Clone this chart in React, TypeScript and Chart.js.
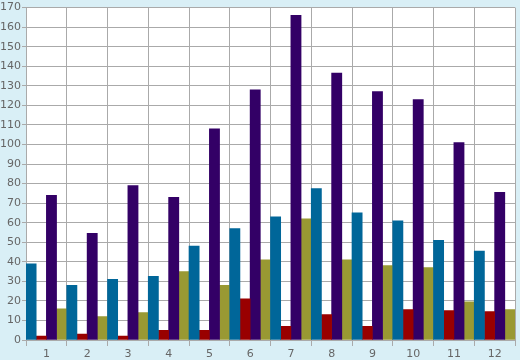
import React, { useEffect, useRef } from "react";
import { Chart, registerables } from "chart.js";

Chart.register(...registerables);

const categories = ["1", "2", "3", "4", "5", "6", "7", "8", "9", "10", "11", "12"];
const blueValues = [39, 28, 31, 32.5, 48, 57, 63, 77.5, 65, 61, 51, 45.5];
const redValues = [2, 3, 2, 5, 5, 21, 7, 13, 7, 15.5, 15, 14.5];
const purpleValues = [74, 54.5, 79, 73, 108, 128, 166, 136.5, 127, 123, 101, 75.5];
const oliveValues = [16, 12, 14, 35, 28, 41, 62, 41, 38, 37, 19.5, 15.5];

const bgPlugin = {
  id: "bgPlugin",
  beforeDraw(chart: any) {
    const { ctx, chartArea } = chart;
    ctx.save();
    ctx.fillStyle = "#d9eff6";
    ctx.fillRect(0, 0, chart.width, chart.height);
    ctx.fillStyle = "#ffffff";
    ctx.fillRect(chartArea.left, chartArea.top, chartArea.right - chartArea.left, chartArea.bottom - chartArea.top);
    ctx.restore();
  },
};

export default function App() {
  const ref = useRef<HTMLCanvasElement | null>(null);
  useEffect(() => {
    document.body.style.margin = "0";
    if (!ref.current) return;
    const font = { family: "'DejaVu Sans', Verdana, sans-serif", size: 11 };
    const chart = new Chart(ref.current, {
      type: "bar",
      data: {
        labels: categories,
        datasets: [
          { data: blueValues, backgroundColor: "#006699" },
          { data: redValues, backgroundColor: "#990000" },
          { data: purpleValues, backgroundColor: "#330066" },
          { data: oliveValues, backgroundColor: "#999933" },
        ],
      },
      options: {
        animation: false,
        responsive: false,
        maintainAspectRatio: false,
        layout: { padding: { top: 5, right: 5, left: 0, bottom: 0 } },
        datasets: { bar: { barPercentage: 1, categoryPercentage: 1 } },
        plugins: { legend: { display: false }, tooltip: { enabled: false } },
        scales: {
          x: {
            grid: { color: "#aaaaaa", lineWidth: 1, tickLength: 6, offset: true },
            border: { color: "#aaaaaa" },
            ticks: { color: "#666666", font, padding: 2 },
            afterFit(scale: any) {
              scale.height = 20;
            },
          },
          y: {
            min: 0,
            max: 170,
            grid: { color: "#aaaaaa", lineWidth: 1, tickLength: 4 },
            border: { color: "#aaaaaa" },
            ticks: { stepSize: 10, color: "#666666", font, padding: 1 },
            afterFit(scale: any) {
              scale.width = 26;
            },
          },
        },
      },
      plugins: [bgPlugin],
    } as any);
    return () => chart.destroy();
  }, []);
  return <canvas ref={ref} width={520} height={360} style={{ display: "block" }} />;
}
